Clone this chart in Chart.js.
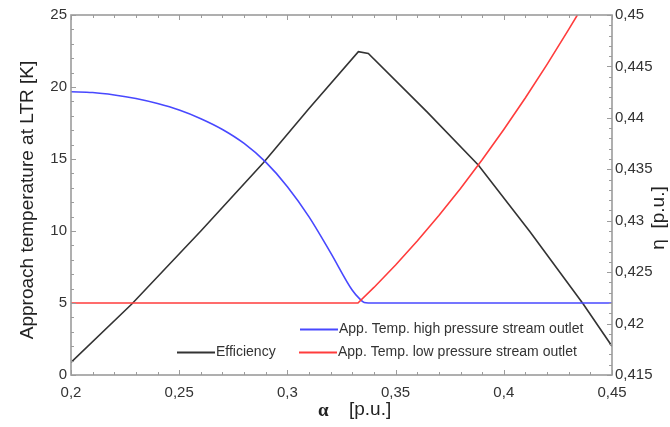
<!DOCTYPE html>
<html>
<head>
<meta charset="utf-8">
<script src="https://cdn.jsdelivr.net/npm/chart.js@4.4.1/dist/chart.umd.min.js"></script>
<style>
  html, body { margin: 0; padding: 0; background: #fff; }
</style>
</head>
<body>
<canvas id="chart" width="670" height="427"></canvas>
<script>
/* ---------- data ---------- */
const seriesNames = [
  "App. Temp. high pressure stream outlet",
  "App. Temp. low pressure stream outlet",
  "Efficiency"
];

// high pressure stream outlet approach temperature [K]
const alphaHigh = [0.2, 0.21, 0.22, 0.23, 0.24, 0.25, 0.26, 0.27, 0.28, 0.29, 0.30, 0.31, 0.32, 0.33, 0.3333, 0.3355, 0.3374, 0.45];
const tempHigh  = [19.67, 19.62, 19.45, 19.2, 18.85, 18.4, 17.8, 17.05, 16.08, 14.78, 13.08, 10.98, 8.48, 5.88, 5.3, 5.03, 5.0, 5.0];

// low pressure stream outlet approach temperature [K]
const alphaLow = [0.2, 0.3326, 0.34, 0.35, 0.36, 0.37, 0.38, 0.39, 0.40, 0.41, 0.42, 0.43, 0.434];
const tempLow  = [5.0, 5.0, 6.08, 7.64, 9.3, 11.07, 12.95, 14.95, 17.05, 19.25, 21.57, 24.0, 25.0];

// efficiency [p.u.]
const alphaEff = [0.2, 0.2281, 0.26, 0.2889, 0.31, 0.3328, 0.3374, 0.3644, 0.3882, 0.4121, 0.4367, 0.45];
const efficiency = [0.41622, 0.4219, 0.4290, 0.43564, 0.4409, 0.44643, 0.44626, 0.4406, 0.43542, 0.42893, 0.4219, 0.4178];

// axis ranges / tick steps
const alphaTicks = [0.2, 0.45, 0.05, 0.01];     // min, max, major, minor
const tempTicks  = [0, 25, 5, 1];
const etaTicks   = [0.415, 0.45, 0.005, 0.001];

const colors = ["#4848ff", "#ff3c3c", "#333333"];

/* ---------- helpers ---------- */
const pairs = (xs, ys) => xs.map((x, i) => ({ x, y: ys[i] }));
const comma = v => String(Number(v.toFixed(4))).replace(".", ",");
const FONT = "'Liberation Sans', Arial, sans-serif";
const TEXT = "#333333";

/* ---------- inward tick marks + frame ---------- */
const frameTicks = {
  id: "frameTicks",
  afterDatasetsDraw(chart) {
    const { ctx, chartArea: a, scales } = chart;
    ctx.save();
    ctx.strokeStyle = "#9c9c9c";
    ctx.lineWidth = 1;

    function marks(scale, t, side) {
      const [min, max, major, minor] = t;
      const n = Math.round((max - min) / minor);
      const every = Math.round(major / minor);
      for (let i = 0; i <= n; i++) {
        const v = min + i * minor;
        const len = i % every === 0 ? 5 : 3;
        const p = Math.round(scale.getPixelForValue(v)) + 0.5;
        ctx.beginPath();
        if (side === "bottom") { ctx.moveTo(p, a.bottom); ctx.lineTo(p, a.bottom - len); }
        if (side === "top")    { ctx.moveTo(p, a.top);    ctx.lineTo(p, a.top + len); }
        if (side === "left")   { ctx.moveTo(a.left, p);   ctx.lineTo(a.left + len, p); }
        if (side === "right")  { ctx.moveTo(a.right, p);  ctx.lineTo(a.right - len, p); }
        ctx.stroke();
      }
    }
    marks(scales.x, alphaTicks, "bottom");
    marks(scales.x, alphaTicks, "top");
    marks(scales.y, tempTicks, "left");
    marks(scales.y1, etaTicks, "right");

    ctx.lineWidth = 1.6;
    ctx.strokeRect(a.left, a.top, a.right - a.left, a.bottom - a.top);
    ctx.restore();
  }
};

/* ---------- legend inside the plot + axis titles ---------- */
const legendTitles = {
  id: "legendTitles",
  afterDraw(chart) {
    const { ctx } = chart;
    ctx.save();
    ctx.font = "14px " + FONT;
    ctx.textBaseline = "middle";
    ctx.textAlign = "left";
    ctx.lineWidth = 1.8;

    const items = [
      [colors[0], seriesNames[0], 300, 329],
      [colors[2], seriesNames[2], 177, 352],
      [colors[1], seriesNames[1], 299, 352]
    ];
    items.forEach(([c, label, x, y]) => {
      ctx.strokeStyle = c;
      ctx.beginPath();
      ctx.moveTo(x, y + 0.5);
      ctx.lineTo(x + 38, y + 0.5);
      ctx.stroke();
      ctx.fillStyle = TEXT;
      ctx.fillText(label, x + 39, y);
    });

    // left title
    ctx.fillStyle = "#222";
    ctx.font = "19px " + FONT;
    ctx.textAlign = "center";
    ctx.save();
    ctx.translate(28, 200);
    ctx.rotate(-Math.PI / 2);
    ctx.fillText("Approach temperature at LTR [K]", 0, 0);
    ctx.restore();

    // right title
    ctx.save();
    ctx.translate(659, 218);
    ctx.rotate(-Math.PI / 2);
    ctx.fillText("\u03b7  [p.u.]", 0, 0);
    ctx.restore();

    // bottom title
    ctx.textAlign = "left";
    ctx.font = "bold 19px 'Liberation Serif', serif";
    ctx.fillText("\u03b1", 318, 411);
    ctx.font = "19px " + FONT;
    ctx.fillText("[p.u.]", 349, 410);
    ctx.restore();
  }
};

/* ---------- chart ---------- */
new Chart(document.getElementById("chart"), {
  type: "line",
  data: {
    datasets: [
      {
        label: seriesNames[1],
        data: pairs(alphaLow, tempLow),
        yAxisID: "y",
        borderColor: colors[1],
        borderWidth: 1.6,
        tension: 0,
        pointRadius: 0
      },
      {
        label: seriesNames[0],
        data: pairs(alphaHigh, tempHigh),
        yAxisID: "y",
        borderColor: colors[0],
        borderWidth: 1.6,
        cubicInterpolationMode: "monotone",
        pointRadius: 0
      },
      {
        label: seriesNames[2],
        data: pairs(alphaEff, efficiency),
        yAxisID: "y1",
        borderColor: colors[2],
        borderWidth: 1.6,
        tension: 0,
        pointRadius: 0
      }
    ]
  },
  options: {
    responsive: false,
    animation: false,
    devicePixelRatio: 1,
    layout: { padding: { top: 15, left: 0, right: 0, bottom: 0 } },
    plugins: {
      legend: { display: false },
      tooltip: { enabled: false }
    },
    scales: {
      x: {
        type: "linear",
        min: alphaTicks[0],
        max: alphaTicks[1],
        grid: { display: false, drawTicks: false },
        border: { display: false },
        ticks: {
          stepSize: alphaTicks[2],
          autoSkip: false,
          maxRotation: 0,
          padding: 9,
          color: TEXT,
          font: { family: FONT, size: 15 },
          callback: v => comma(v)
        },
        afterFit: s => { s.height = 52; }
      },
      y: {
        position: "left",
        min: tempTicks[0],
        max: tempTicks[1],
        grid: { display: false, drawTicks: false },
        border: { display: false },
        ticks: {
          stepSize: tempTicks[2],
          padding: 4,
          color: TEXT,
          font: { family: FONT, size: 15 },
          callback: v => comma(v)
        },
        afterFit: s => { s.width = 71; }
      },
      y1: {
        position: "right",
        min: etaTicks[0],
        max: etaTicks[1],
        grid: { display: false, drawTicks: false },
        border: { display: false },
        ticks: {
          stepSize: etaTicks[2],
          padding: 3,
          color: TEXT,
          font: { family: FONT, size: 15 },
          callback: v => comma(v)
        },
        afterFit: s => { s.width = 58; }
      }
    }
  },
  plugins: [frameTicks, legendTitles]
});
</script>
</body>
</html>
